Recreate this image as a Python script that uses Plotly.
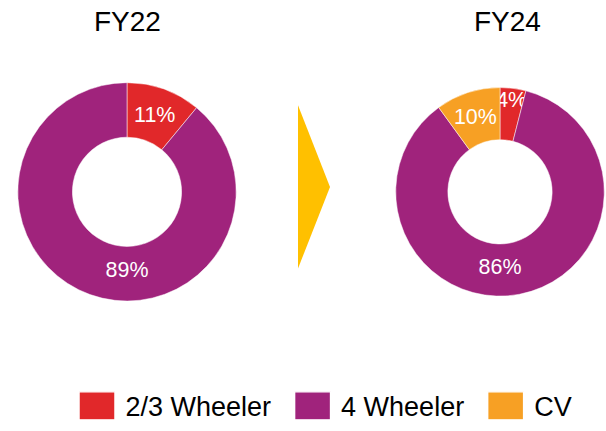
import plotly.graph_objects as go

# data
categories = ["2/3 Wheeler", "4 Wheeler", "CV"]
colors = ["#E1282A", "#A0237C", "#F7A024"]
fy22_labels = ["2/3 Wheeler", "4 Wheeler"]
fy22_values = [11, 89]
fy24_labels = ["2/3 Wheeler", "4 Wheeler", "CV"]
fy24_values = [4, 86, 10]
titles = ["FY22", "FY24"]

W, H = 606, 431
FONT = "Liberation Sans"
color_map = dict(zip(categories, colors))

fig = go.Figure()


def add_donut(labels, values, x0, x1, cy, r):
    fig.add_trace(go.Pie(
        labels=labels,
        values=values,
        hole=0.5,
        sort=False,
        direction="clockwise",
        rotation=0,
        marker=dict(colors=[color_map[l] for l in labels],
                    line=dict(color="white", width=0.5)),
        textinfo="percent",
        texttemplate="%{percent:.0%}",
        textposition="inside",
        insidetextorientation="horizontal",
        textfont=dict(color="white", size=24, family=FONT),
        domain=dict(x=[x0 / W, x1 / W],
                    y=[(H - cy - r) / H, (H - cy + r) / H]),
        hoverinfo="label+percent",
    ))


add_donut(fy22_labels, fy22_values, 16, 238, 195, 111)
add_donut(fy24_labels, fy24_values, 394, 606, 195, 106)

# titles
for t, cx in zip(titles, [127, 507]):
    fig.add_annotation(text=t, x=cx / W, y=(H - 22) / H, xref="paper", yref="paper",
                       showarrow=False, xanchor="center", yanchor="middle",
                       font=dict(size=28, color="black", family=FONT))

# arrow between the two years
fig.add_shape(type="path", xref="paper", yref="paper",
              path=f"M {298/W} {(H-107)/H} L {330/W} {(H-190)/H} L {298/W} {(H-273)/H} Z",
              fillcolor="#FFC000", line=dict(width=0))

fig.update_layout(
    width=W, height=H,
    margin=dict(l=0, r=0, t=0, b=0),
    paper_bgcolor="white",
    plot_bgcolor="white",
    uniformtext=dict(minsize=20, mode="show"),
    legend=dict(orientation="h", x=60.5 / W, xanchor="left", y=(H - 413) / H, yanchor="middle",
                font=dict(size=27, color="black", family=FONT),
                itemwidth=55, traceorder="normal"),
)

# bigger legend squares, like the original
post = """
document.body.style.margin='0';
document.body.style.overflow='hidden';
document.querySelectorAll('.legendpoints path').forEach(function(p){
  p.setAttribute('transform','translate(36.5,0) scale(3,2.33)');
});
"""

fig.write_html("out.html", post_script=post, config={"displayModeBar": False})
